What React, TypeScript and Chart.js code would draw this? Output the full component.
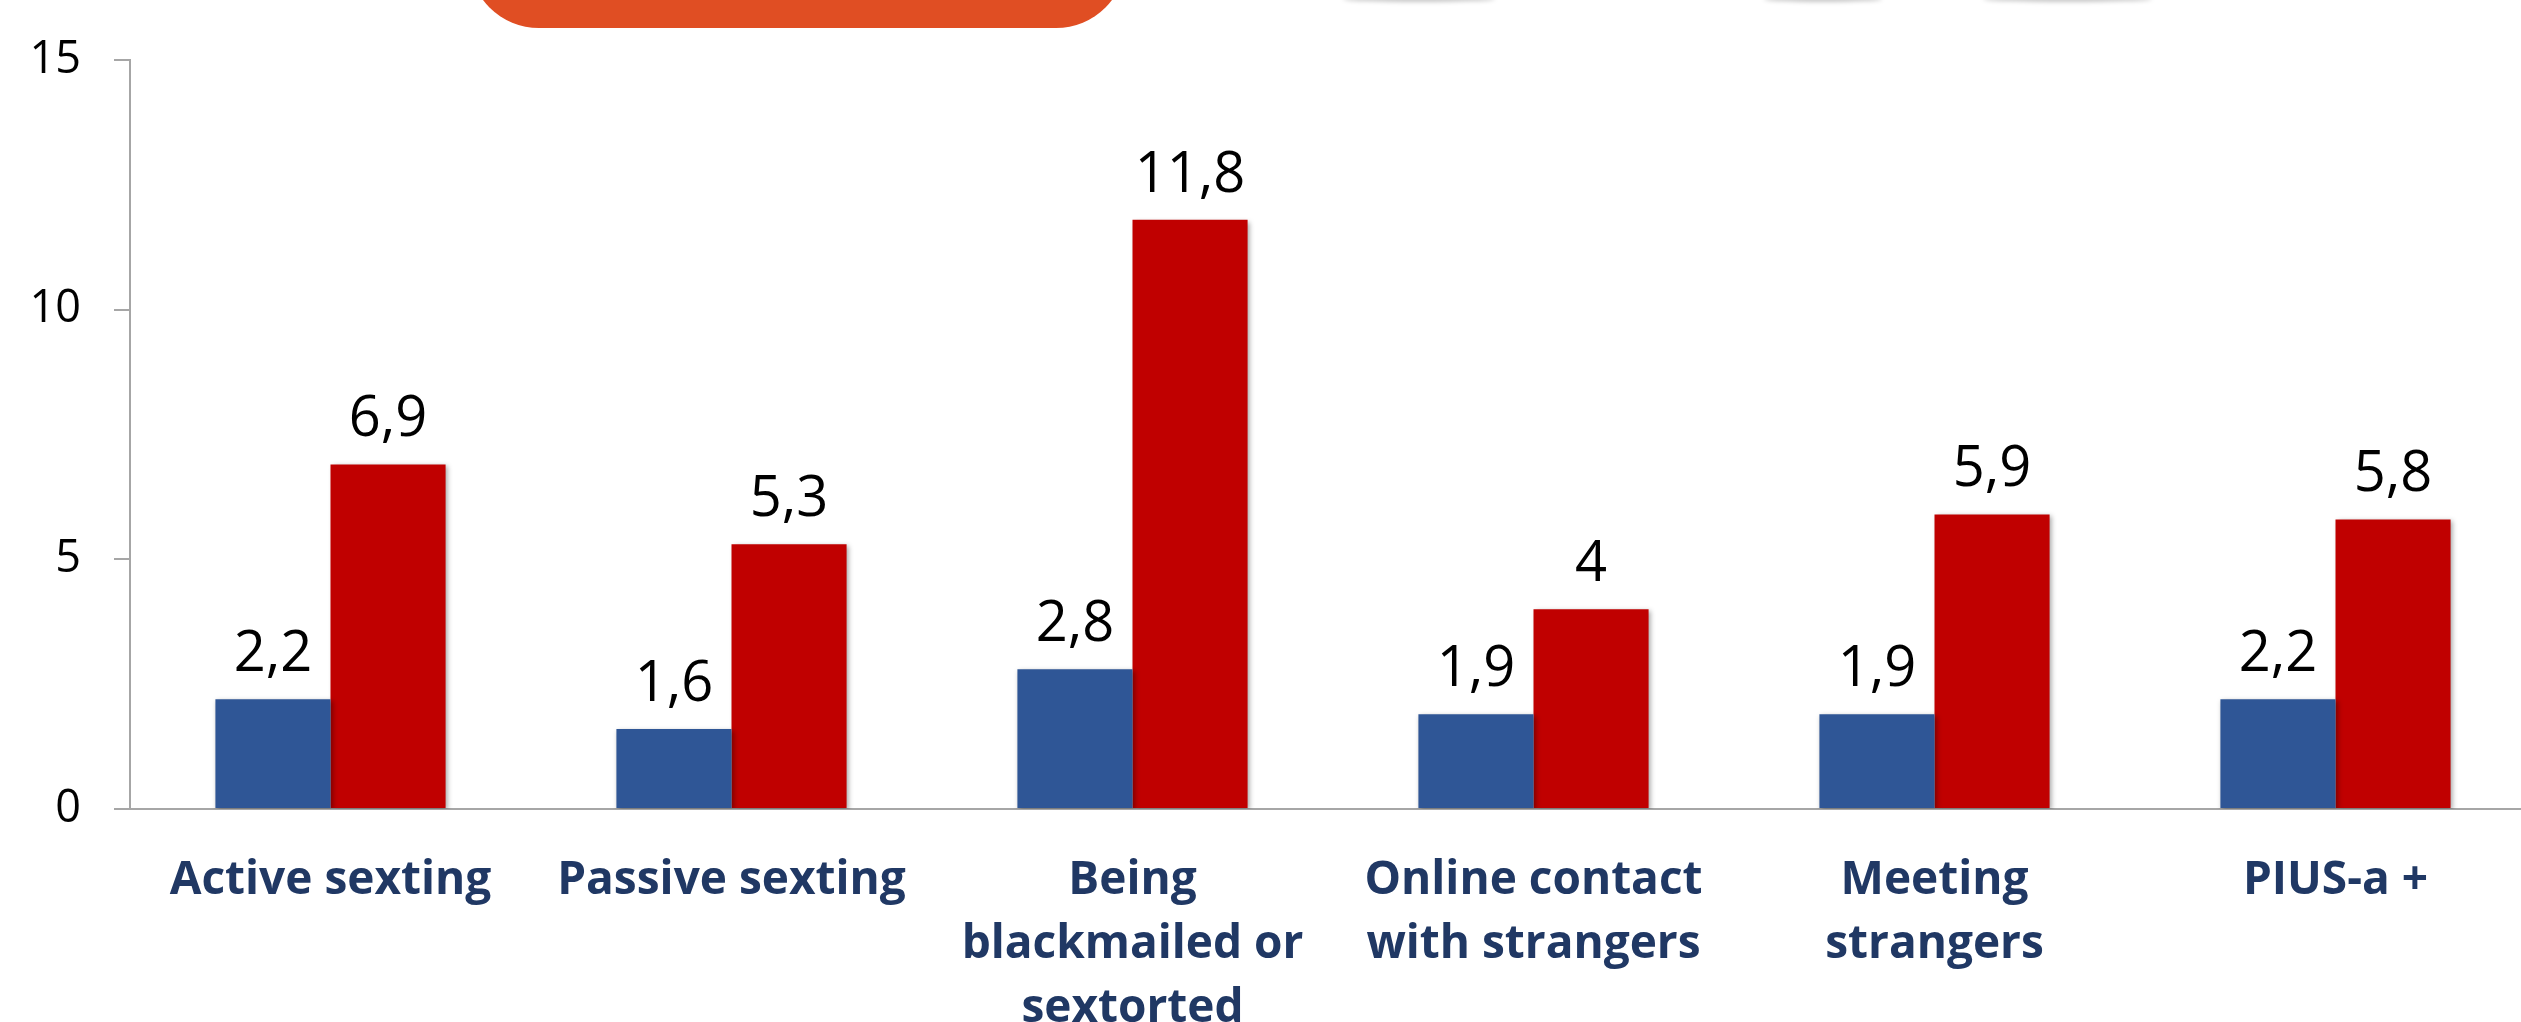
import React, { useEffect, useRef } from "react";
import { Chart, registerables } from "chart.js";

Chart.register(...registerables);

const categories: (string | string[])[] = [
  "Active sexting",
  "Passive sexting",
  ["Being", "blackmailed or", "sextorted"],
  ["Online contact", "with strangers"],
  ["Meeting", "strangers"],
  "PIUS-a +",
];
const seriesBlue = [2.2, 1.6, 2.8, 1.9, 1.9, 2.2];
const seriesRed = [6.9, 5.3, 11.8, 4, 5.9, 5.8];
const yTicks = [0, 5, 10, 15];

const fmt = (v: number) => String(v).replace(".", ",");

const decorPlugin = {
  id: "decor",
  beforeDraw(chart: any) {
    const ctx = chart.ctx;
    ctx.save();
    ctx.fillStyle = "#E04E23";
    ctx.beginPath();
    const x0 = 469, x1 = 1126, y0 = -200, y1 = 28, r = 70;
    ctx.moveTo(x0, y0);
    ctx.lineTo(x1, y0);
    ctx.lineTo(x1, y1 - r);
    ctx.arcTo(x1, y1, x1 - r, y1, r);
    ctx.lineTo(x0 + r, y1);
    ctx.arcTo(x0, y1, x0, y1 - r, r);
    ctx.closePath();
    ctx.fill();
    ctx.filter = "blur(2px)";
    ctx.fillStyle = "rgba(0,0,0,0.22)";
    const shadows = [
      [1343, 1495],
      [1764, 1882],
      [1983, 2152],
    ];
    for (const [a, b] of shadows) {
      ctx.beginPath();
      ctx.ellipse((a + b) / 2, -1, (b - a) / 2, 3, 0, 0, Math.PI * 2);
      ctx.fill();
    }
    ctx.restore();
  },
  beforeDatasetDraw(chart: any) {
    const ctx = chart.ctx;
    ctx.save();
    ctx.shadowColor = "rgba(0,0,0,0.35)";
    ctx.shadowBlur = 5;
    ctx.shadowOffsetX = 2;
    ctx.shadowOffsetY = 2;
  },
  afterDatasetDraw(chart: any) {
    chart.ctx.restore();
  },
  afterDatasetsDraw(chart: any) {
    const ctx = chart.ctx;
    ctx.save();
    ctx.font = "56px 'Open Sans', sans-serif";
    ctx.fillStyle = "#000000";
    ctx.textAlign = "center";
    ctx.textBaseline = "alphabetic";
    chart.data.datasets.forEach((ds: any, i: number) => {
      const meta = chart.getDatasetMeta(i);
      meta.data.forEach((bar: any, j: number) => {
        ctx.fillText(fmt(ds.data[j]), bar.x, bar.y - 28);
      });
    });
    ctx.restore();
  },
};

export default function App() {
  const ref = useRef<HTMLCanvasElement | null>(null);
  useEffect(() => {
    if (!ref.current) return;
    const chart = new Chart(ref.current, {
      type: "bar",
      data: {
        labels: categories,
        datasets: [
          {
            label: "A",
            data: seriesBlue,
            backgroundColor: "#2F5696",
            barPercentage: 1.0,
            categoryPercentage: 0.574,
          },
          {
            label: "B",
            data: seriesRed,
            backgroundColor: "#C00000",
            barPercentage: 1.0,
            categoryPercentage: 0.574,
          },
        ],
      },
      options: {
        responsive: false,
        animation: false,
        devicePixelRatio: 1,
        layout: { padding: { top: 59, right: 4, left: 0, bottom: 0 } },
        plugins: {
          legend: { display: false },
          tooltip: { enabled: false },
          title: { display: false },
        },
        scales: {
          x: {
            type: "category",
            offset: true,
            grid: { display: true, drawOnChartArea: false, drawTicks: false },
            border: { display: true, color: "#A6A6A6", width: 2 },
            ticks: {
              autoSkip: false,
              maxRotation: 0,
              minRotation: 0,
              padding: 40,
              color: "#203864",
              font: {
                family: "'Open Sans', sans-serif",
                size: 46,
                weight: "bold",
                lineHeight: 64 / 46,
              },
            },
            afterFit(scale: any) {
              scale.height = 213;
            },
          },
          y: {
            min: 0,
            max: 15,
            afterBuildTicks(scale: any) {
              scale.ticks = yTicks.map((v) => ({ value: v }));
            },
            grid: {
              display: true,
              drawOnChartArea: false,
              drawTicks: true,
              tickLength: 16,
              color: "#A6A6A6",
              lineWidth: 2,
            },
            border: { display: true, color: "#A6A6A6", width: 2 },
            ticks: {
              padding: 33,
              color: "#000000",
              font: { family: "'Open Sans', sans-serif", size: 45 },
            },
            afterFit(scale: any) {
              scale.width = 130;
            },
          },
        },
      },
      plugins: [decorPlugin],
    } as any);
    return () => chart.destroy();
  }, []);
  return (
    <div
      style={{
        position: "absolute",
        left: 0,
        top: 0,
        width: 2521,
        height: 1022,
        overflow: "hidden",
        background: "#ffffff",
      }}
    >
      <canvas ref={ref} width={2540} height={1022} style={{ width: 2540, height: 1022, display: "block" }} />
    </div>
  );
}
